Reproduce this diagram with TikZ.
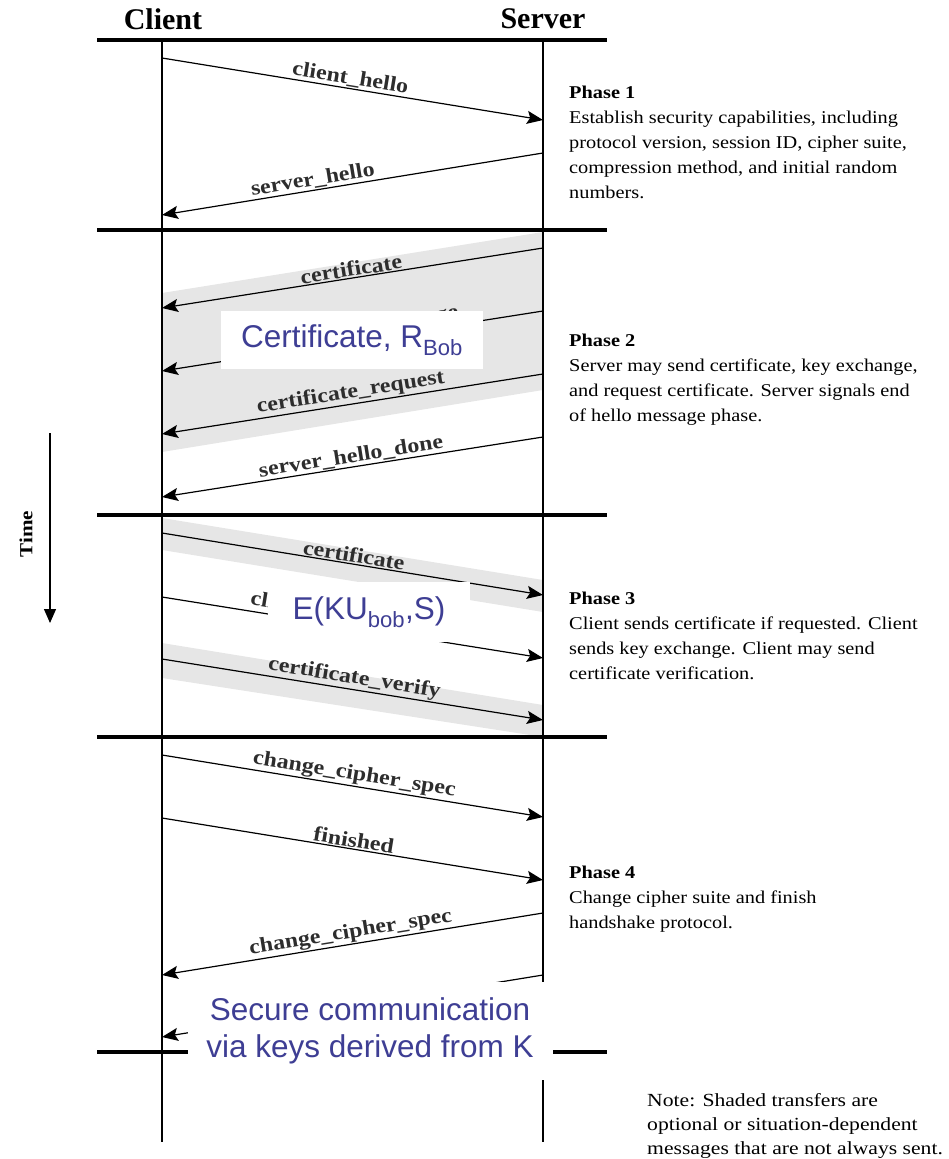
\documentclass[tikz,border=0pt]{standalone}
\usepackage{fontspec}
\setmainfont{Liberation Serif}
\newfontfamily\arialfont{Liberation Sans}
\newfontfamily\msgfont{Liberation Serif}[FakeStretch=1.14]
\newfontfamily\descfont{Liberation Serif}[FakeStretch=1.13]
\newfontfamily\notefont{Liberation Serif}[FakeStretch=1.17]
\usetikzlibrary{arrows.meta}
\definecolor{shade}{RGB}{230,230,230}
\definecolor{ovblue}{RGB}{62,62,148}
\definecolor{msgtext}{RGB}{45,45,45}

\begin{document}
\begin{tikzpicture}[x=1pt,y=-1pt,
  lifeline/.style={line width=1.4pt},
  phasebar/.style={line width=4.5pt},
  msg/.style={line width=1.2pt,-{Stealth[length=16pt,width=13pt,inset=3pt]}},
  msglabel/.style={sloped,above,inner sep=1pt,text=msgtext,
    font=\msgfont\fontsize{21}{24}\selectfont\bfseries},
  header/.style={font=\fontsize{30}{34}\selectfont\bfseries,inner sep=0pt},
  phasetext/.style={anchor=north west,align=left,inner sep=0pt,
    font=\descfont\fontsize{18}{25}\selectfont},
  notetext/.style={anchor=north west,align=left,inner sep=0pt,
    font=\notefont\fontsize{18.5}{24}\selectfont},
  overlaybox/.style={fill=white,text=ovblue,inner sep=0pt,align=center,
    font=\arialfont\fontsize{31.5}{37}\selectfont},
  band/.style={fill=shade,draw=none}]

\useasboundingbox (0,0) rectangle (948,1159);

% optional-message shading
\fill[band] (543,232) -- (543,390) -- (162,452) -- (162,293) -- cycle;
\fill[band] (162,518) -- (543,580) -- (543,612) -- (162,550) -- cycle;
\fill[band] (162,643) -- (543,705) -- (543,737) -- (162,678) -- cycle;

% headers and lifelines
\node[header] (client) at (163,19) {Client};
\node[header] (server) at (543,19) {Server};
\coordinate (ctop) at (162,40);
\coordinate (cbot) at (162,1142);
\coordinate (stop) at (543,40);
\coordinate (sbot) at (543,1142);
\draw[lifeline] (ctop) -- (cbot);
\draw[lifeline] (stop) -- (sbot);

% phase separators
\foreach \y/\n in {40/b0,230/b1,515/b2,737/b3,1052/b4}{
  \coordinate (\n l) at (97,\y);
  \coordinate (\n r) at (607,\y);
  \draw[phasebar] (\n l) -- (\n r);
}

% message end points
\coordinate (m1a) at (162,58);   \coordinate (m1b) at (543,120);
\coordinate (m2a) at (543,153);  \coordinate (m2b) at (162,215);
\coordinate (m3a) at (543,248);  \coordinate (m3b) at (162,308);
\coordinate (m4a) at (543,311);  \coordinate (m4b) at (162,371);
\coordinate (m5a) at (543,374);  \coordinate (m5b) at (162,434);
\coordinate (m6a) at (543,437);  \coordinate (m6b) at (162,497);
\coordinate (m7a) at (162,533);  \coordinate (m7b) at (543,595);
\coordinate (m8a) at (162,597);  \coordinate (m8b) at (543,658);
\coordinate (m9a) at (162,659);  \coordinate (m9b) at (543,720);
\coordinate (m10a) at (162,755); \coordinate (m10b) at (543,817);
\coordinate (m11a) at (162,818); \coordinate (m11b) at (543,880);
\coordinate (m12a) at (543,913); \coordinate (m12b) at (162,975);
\coordinate (m13a) at (543,975); \coordinate (m13b) at (162,1037);

% messages
\draw[msg] (m1a) -- node[msglabel,pos=0.49] (l1) {client\_hello} (m1b);
\draw[msg] (m2a) -- node[msglabel,pos=0.6] (l2) {server\_hello} (m2b);
\draw[msg] (m3a) -- node[msglabel,pos=0.5] (l3) {certificate} (m3b);
\draw[msg] (m4a) -- node[msglabel,pos=0.5] (l4) {server\_key\_exchange} (m4b);
\draw[msg] (m5a) -- node[msglabel,pos=0.5] (l5) {certificate\_request} (m5b);
\draw[msg] (m6a) -- node[msglabel,pos=0.5] (l6) {server\_hello\_done} (m6b);
\draw[msg] (m7a) -- node[msglabel,pos=0.5] (l7) {certificate} (m7b);
\draw[msg] (m8a) -- node[msglabel,pos=0.5] (l8) {client\_key\_exchange} (m8b);
\draw[msg] (m9a) -- node[msglabel,pos=0.5] (l9) {certificate\_verify} (m9b);
\draw[msg] (m10a) -- node[msglabel,pos=0.5] (l10) {change\_cipher\_spec} (m10b);
\draw[msg] (m11a) -- node[msglabel,pos=0.5] (l11) {finished} (m11b);
\draw[msg] (m12a) -- node[msglabel,pos=0.5] (l12) {change\_cipher\_spec} (m12b);
\draw[msg] (m13a) -- node[msglabel,pos=0.5] (l13) {finished} (m13b);

% time axis
\coordinate (t0) at (50,433);
\coordinate (t1) at (50,623);
\draw[line width=1.3pt,-{Triangle[length=14pt,width=12pt]}] (t0) -- (t1);
\node[rotate=90,font=\msgfont\fontsize{18.5}{22}\selectfont\bfseries] (time) at (26,534) {Time};

% phase descriptions
\node[phasetext] (p1) at (569,86) {\textbf{Phase 1}\\Establish security capabilities, including\\protocol version, session ID, cipher suite,\\compression method, and initial random\\numbers.};
\node[phasetext] (p2) at (569,334) {\textbf{Phase 2}\\Server may send certificate, key exchange,\\and request certificate. Server signals end\\of hello message phase.};
\node[phasetext] (p3) at (569,592) {\textbf{Phase 3}\\Client sends certificate if requested. Client\\sends key exchange. Client may send\\certificate verification.};
\node[phasetext] (p4) at (569,866) {\textbf{Phase 4}\\Change cipher suite and finish\\handshake protocol.};
\node[notetext] (note) at (647,1093) {Note: Shaded transfers are\\optional or situation-dependent\\messages that are not always sent.};

% annotations laid over the exchange
\node[overlaybox,minimum width=262,minimum height=58] (certR) at (352,340) {Certificate, R\textsubscript{Bob}};
\node[overlaybox,minimum width=202,minimum height=60] (encS) at (369,612) {E(KU\textsubscript{bob},S)};
\node[overlaybox,minimum width=365,minimum height=98] (secure) at (370,1031) {Secure communication\\via keys derived from K};

\end{tikzpicture}
\end{document}
